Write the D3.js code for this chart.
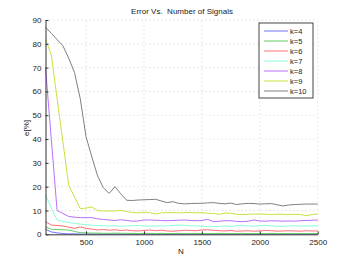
<!DOCTYPE html>
<html>
<head>
<meta charset="utf-8">
<script src="https://cdn.jsdelivr.net/npm/d3@7"></script>
<style>
    body { margin: 0; background: #fff; }
    svg { font-family: "Liberation Sans", Arial, sans-serif; }
</style>
</head>
<body>
<div id="chart"></div>
<script>
// number of signals
var N = [150, 200, 250, 300, 350, 400, 450, 500, 550, 600, 650, 700, 750, 800, 850, 900,
    950, 1000, 1050, 1100, 1150, 1200, 1250, 1300, 1350, 1400, 1450, 1500, 1550, 1600, 1650, 1700,
    1750, 1800, 1850, 1900, 1950, 2000, 2050, 2100, 2150, 2200, 2250, 2300, 2350, 2400, 2450, 2500];

var k4 = [2.1, 1.0, 0.6, 0.3, 0.2, 0.2, 0.1, 0.1, 0.1, 0.1, 0.1, 0.1, 0.1, 0.1, 0.1, 0.1,
    0.1, 0.1, 0.1, 0.1, 0.1, 0.1, 0.1, 0.1, 0.1, 0.1, 0.1, 0.1, 0.1, 0.1, 0.1, 0.1,
    0.1, 0.1, 0.1, 0.1, 0.1, 0.1, 0.1, 0.1, 0.1, 0.1, 0.1, 0.1, 0.1, 0.1, 0.1, 0.1];
var k5 = [3.2, 2.1, 2.0, 1.9, 1.8, 1.2, 0.7, 0.6, 0.5, 0.5, 0.4, 0.4, 0.5, 0.4, 0.4, 0.4,
    0.3, 0.4, 0.4, 0.3, 0.4, 0.3, 0.3, 0.4, 0.3, 0.3, 0.4, 0.3, 0.3, 0.3, 0.4, 0.3,
    0.3, 0.3, 0.4, 0.3, 0.3, 0.3, 0.3, 0.4, 0.3, 0.3, 0.3, 0.3, 0.3, 0.3, 0.3, 0.3];
var k6 = [5.3, 3.9, 3.7, 3.5, 3.0, 2.5, 3.1, 2.5, 2.2, 1.8, 2.0, 1.7, 1.9, 1.6, 1.8, 1.5,
    1.4, 1.6, 1.8, 1.5, 1.7, 1.4, 1.3, 1.5, 1.7, 1.6, 1.5, 1.8, 1.9, 1.7, 1.5, 1.4,
    1.6, 1.3, 1.4, 1.5, 1.3, 1.4, 1.6, 1.5, 1.3, 1.4, 1.5, 1.4, 1.3, 1.5, 1.4, 1.4];
var k7 = [16.5, 11, 6.0, 5.4, 5.0, 4.6, 4.3, 4.0, 3.8, 3.7, 3.6, 3.5, 3.6, 3.4, 3.5, 3.6,
    3.7, 3.5, 3.4, 3.5, 3.6, 3.5, 3.7, 3.9, 3.8, 3.6, 3.5, 3.4, 3.3, 3.2, 3.3, 3.5,
    3.4, 3.6, 3.8, 3.5, 3.4, 3.6, 3.8, 3.5, 3.4, 3.3, 3.5, 3.6, 3.4, 3.5, 3.5, 3.6];
var k8 = [70, 40, 10, 8.8, 7.5, 7.2, 7.0, 7.0, 7.0, 6.5, 6.2, 6.0, 5.8, 6.1, 5.8, 5.5,
    5.6, 6.0, 6.0, 5.9, 5.8, 5.7, 5.8, 5.9, 6.0, 5.8, 5.7, 5.8, 6.3, 5.3, 5.5, 5.7,
    5.7, 5.4, 5.3, 5.5, 6.0, 5.6, 5.5, 5.7, 5.6, 5.5, 5.6, 5.5, 5.7, 5.8, 5.9, 6.0];
var k9 = [82, 75.3, 57, 39, 20.6, 15.7, 10.8, 11, 11.5, 10, 9.8, 9.8, 9.8, 10, 9.5, 9.2,
    9.0, 9.3, 9.1, 8.5, 9.0, 9.1, 9.1, 9.0, 9.1, 9.2, 9.0, 9.1, 8.8, 8.8, 8.4, 8.9,
    8.8, 8.4, 8.3, 8.4, 8.5, 8.5, 8.4, 8.3, 8.5, 8.4, 8.3, 8.4, 8.3, 7.8, 8.3, 8.5];
var k10 = [87, 84.4, 81.8, 79.2, 74, 68, 57, 41, 32.5, 24.5, 19.5, 17.2, 20, 17, 14.3, 14.2,
    14.4, 14.5, 14.6, 14.7, 14.0, 13.3, 13.7, 13.0, 12.8, 12.9, 13.0, 13.0, 13.2, 13.3, 13.0, 12.8,
    13.1, 12.5, 12.8, 13.0, 12.9, 12.7, 12.8, 12.9, 12.4, 11.9, 12.3, 12.5, 12.6, 12.7, 12.7, 12.7];

var labels = ['k=4', 'k=5', 'k=6', 'k=7', 'k=8', 'k=9', 'k=10'];
var colors = ['#7373ff', '#66cc66', '#ff6e6e', '#8cffd4', '#bb6eff', '#cde03e', '#808080'];
var yTicks = [0, 10, 20, 30, 40, 50, 60, 70, 80, 90];
var xTicks = [500, 1000, 1500, 2000, 2500];

var series = [k4, k5, k6, k7, k8, k9, k10];

var width = 350, height = 264;
var margin = {top: 20, right: 32, bottom: 30, left: 45};

var svg = d3.select('#chart').append('svg')
    .attr('width', width).attr('height', height);

var x = d3.scaleLinear().domain([150, 2500]).range([margin.left + 0.5, width - margin.right - 0.3]);
var y = d3.scaleLinear().domain([0, 90]).range([height - margin.bottom + 0.3, margin.top]);

// grid
var grid = svg.append('g').attr('stroke', '#c8c8c8').attr('stroke-width', 0.8)
    .attr('stroke-dasharray', '1,3');
grid.selectAll('.gx').data(xTicks).enter().append('line')
    .attr('x1', function (d) { return x(d); }).attr('x2', function (d) { return x(d); })
    .attr('y1', y(0)).attr('y2', y(90));
grid.selectAll('.gy').data(yTicks.slice(1)).enter().append('line')
    .attr('x1', x(150)).attr('x2', x(2500))
    .attr('y1', function (d) { return y(d); }).attr('y2', function (d) { return y(d); });

// lines
var line = d3.line()
    .x(function (d, i) { return x(N[i]); })
    .y(function (d) { return y(d); });

svg.append('g').selectAll('path').data(series).enter().append('path')
    .attr('d', line)
    .attr('fill', 'none')
    .attr('stroke-width', 1)
    .attr('stroke', function (d, i) { return colors[i]; });

// axes
var xAxis = d3.axisBottom(x).tickValues(xTicks).tickFormat(d3.format('d'))
    .tickSize(-3).tickPadding(5).tickSizeOuter(0);
var yAxis = d3.axisLeft(y).tickValues(yTicks).tickFormat(d3.format('d'))
    .tickSize(-3).tickPadding(4).tickSizeOuter(0);

var gx = svg.append('g').attr('transform', 'translate(0,' + y(0) + ')').call(xAxis);
var gy = svg.append('g').attr('transform', 'translate(' + x(150) + ',0)').call(yAxis);
[gx, gy].forEach(function (g) {
    g.select('.domain').attr('stroke', '#333').attr('stroke-width', 1);
    g.selectAll('.tick line').attr('stroke', '#333');
    g.selectAll('.tick text').attr('font-size', 8).attr('fill', '#222')
        .attr('font-family', '"Liberation Sans", Arial, sans-serif');
});

// title and labels
svg.append('text').attr('x', 182).attr('y', 14).attr('text-anchor', 'middle')
    .attr('font-size', 8).attr('fill', '#222').attr('xml:space', 'preserve')
    .text('Error Vs.  Number of Signals');
svg.append('text').attr('x', 181).attr('y', 254).attr('text-anchor', 'middle')
    .attr('font-size', 8).attr('fill', '#222').text('N');
svg.append('text').attr('transform', 'translate(29,128) rotate(-90)').attr('text-anchor', 'middle')
    .attr('font-size', 8).attr('fill', '#222').text('e[%]');

// legend
var lg = svg.append('g').attr('transform', 'translate(259,23)');
lg.append('rect').attr('width', 54).attr('height', 75)
    .attr('fill', '#fff').attr('stroke', '#444').attr('stroke-width', 1);
var item = lg.selectAll('.item').data(labels).enter().append('g')
    .attr('transform', function (d, i) { return 'translate(0,' + (8 + i * 10) + ')'; });
item.append('line').attr('x1', 5).attr('x2', 29).attr('y1', 0).attr('y2', 0)
    .attr('stroke', function (d, i) { return colors[i]; }).attr('stroke-width', 1);
item.append('text').attr('x', 31).attr('y', 3).attr('font-size', 7.5).attr('fill', '#222')
    .text(function (d) { return d; });
</script>
</body>
</html>
